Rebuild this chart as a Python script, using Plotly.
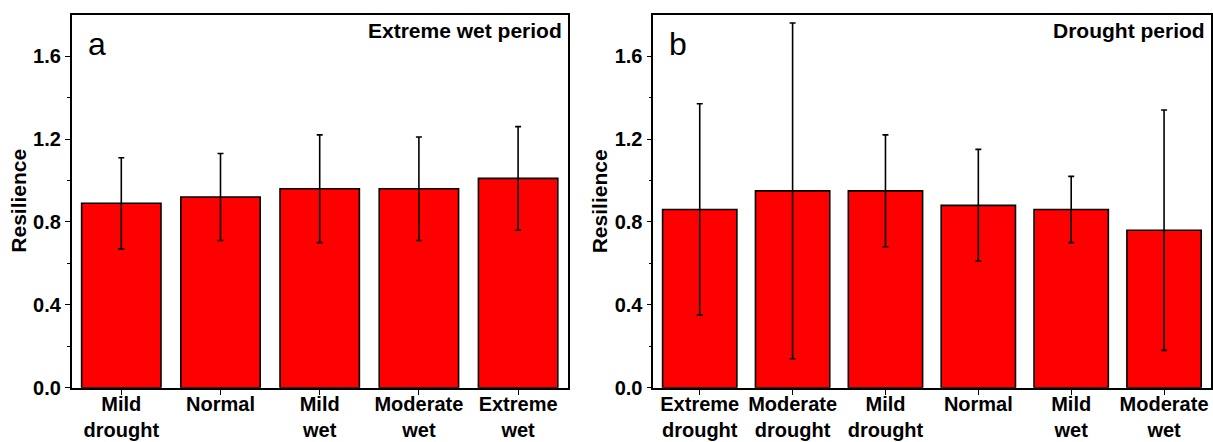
import plotly.graph_objects as go

# ---- data ----
cats_a = ["Mild<br>drought", "Normal", "Mild<br>wet", "Moderate<br>wet", "Extreme<br>wet"]
vals_a = [0.89, 0.92, 0.96, 0.96, 1.01]
err_a = [0.22, 0.21, 0.26, 0.25, 0.25]

cats_b = ["Extreme<br>drought", "Moderate<br>drought", "Mild<br>drought", "Normal", "Mild<br>wet", "Moderate<br>wet"]
vals_b = [0.86, 0.95, 0.95, 0.88, 0.86, 0.76]
err_b = [0.51, 0.81, 0.27, 0.27, 0.16, 0.58]

ytick_vals = [0.0, 0.4, 0.8, 1.2, 1.6]
ytick_text = ["0.0", "0.4", "0.8", "1.2", "1.6"]

panel_labels = ["a", "b"]
period_labels = ["Extreme wet period", "Drought period"]
y_title = "Resilience"

# ---- style ----
W, H = 1213, 442
FONT = "Liberation Sans, Arial, sans-serif"
RED = "#ff0000"

def px_x(p):
    return p / W

def px_y(p):  # pixel from top -> paper
    return 1 - p / H

dom_a = [px_x(71.7), px_x(567.7)]
dom_b = [px_x(653.3), px_x(1210.5)]
dom_y = [px_y(387.7), px_y(14.7)]

fig = go.Figure()

def bar(x, y, e, xa, ya):
    return go.Bar(
        x=x, y=y, xaxis=xa, yaxis=ya,
        marker=dict(color=RED, line=dict(color="black", width=1.6)),
        error_y=dict(type="data", array=e, visible=True, color="black",
                     thickness=1.6, width=3),
        showlegend=False, width=0.8,
    )

fig.add_trace(bar(cats_a, vals_a, err_a, "x", "y"))
fig.add_trace(bar(cats_b, vals_b, err_b, "x2", "y2"))

xtickfont = dict(family=FONT, size=20, color="black", weight="bold")
ytickfont = dict(family=FONT, size=20, color="black", weight="bold")

def xaxis(dom, anchor):
    return dict(domain=dom, anchor=anchor, showline=True, linecolor="black",
                linewidth=1.6, mirror=True, ticks="outside", ticklen=5,
                tickwidth=1.4, tickcolor="black", tickfont=xtickfont,
                ticklabelstandoff=-8, automargin=False,
                showgrid=False, zeroline=False, fixedrange=True)

def yaxis(anchor):
    return dict(domain=dom_y, anchor=anchor, range=[0, 1.8], showline=True,
                linecolor="black", linewidth=1.6, mirror=True,
                ticks="outside", ticklen=5, tickwidth=1.4, tickcolor="black",
                tickvals=ytick_vals, ticktext=ytick_text, tickfont=ytickfont,
                minor=dict(tickvals=[0.2, 0.6, 1.0, 1.4], ticks="outside",
                           ticklen=3, tickwidth=1, tickcolor="black"),
                automargin=False,
                showgrid=False, zeroline=False, fixedrange=True)

annotations = []
for i, (dom, plab, per) in enumerate([(dom_a, panel_labels[0], period_labels[0]),
                                       (dom_b, panel_labels[1], period_labels[1])]):
    axis_px = dom[0] * W
    annotations.append(dict(
        text=y_title, textangle=-90, x=px_x(axis_px - 53), y=px_y(201),
        xref="paper", yref="paper", xanchor="center", yanchor="middle",
        showarrow=False, font=dict(family=FONT, size=21, color="black", weight="bold")))
    annotations.append(dict(
        text=plab, x=px_x(axis_px + 14), y=px_y(44), xref="paper", yref="paper",
        xanchor="left", yanchor="middle", showarrow=False,
        font=dict(family=FONT, size=32, color="black")))
    annotations.append(dict(
        text=per, x=dom[1] - px_x(4), y=px_y(31), xref="paper", yref="paper",
        xanchor="right", yanchor="middle", showarrow=False,
        font=dict(family=FONT, size=21, color="black", weight="bold")))

fig.update_layout(
    width=W, height=H, margin=dict(l=0, r=0, t=0, b=0, autoexpand=False),
    paper_bgcolor="white", plot_bgcolor="white",
    bargap=0.2,
    xaxis=xaxis(dom_a, "y"), yaxis=yaxis("x"),
    xaxis2=xaxis(dom_b, "y2"), yaxis2=yaxis("x2"),
    annotations=annotations,
)

fig.write_html("out.html")
